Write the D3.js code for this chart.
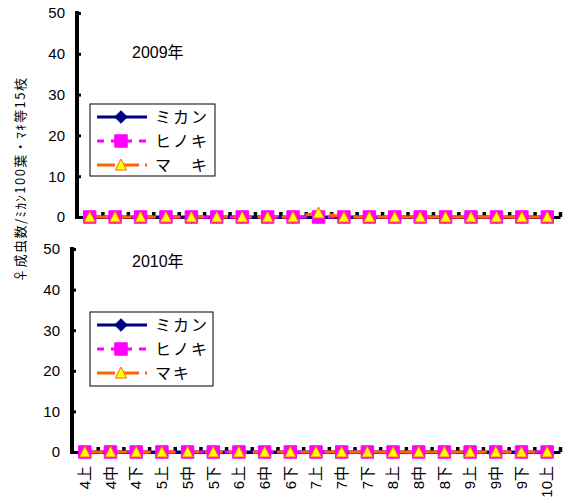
<!DOCTYPE html>
<html>
<head>
<meta charset="utf-8">
<script src="https://cdn.jsdelivr.net/npm/d3@7"></script>
<style>
  html, body { margin: 0; padding: 0; background: #fff; }
  svg { display: block; }
</style>
</head>
<body>
<svg id="chart" width="569" height="503"></svg>
<script>
// 半旬ごとの調査時期
const categories = ["4上","4中","4下","5上","5中","5下","6上","6中","6下","7上","7中","7下","8上","8中","8下","9上","9中","9下","10上"];

// 2009年 ♀成虫数
const mikan2009  = [0,0,0,0,0,0,0,0,0,0,0,0,0,0,0,0,0,0,0];
const hinoki2009 = [0,0,0,0,0,0,0,0,0,0,0,0,0,0,0,0,0,0,0];
const maki2009   = [0,0,0,0,0,0,0,0,0,1,0,0,0,0,0,0,0,0,0];

// 2010年 ♀成虫数
const mikan2010  = [0,0,0,0,0,0,0,0,0,0,0,0,0,0,0,0,0,0,0];
const hinoki2010 = [0,0,0,0,0,0,0,0,0,0,0,0,0,0,0,0,0,0,0];
const maki2010   = [0,0,0,0,0,0,0,0,0,0,0,0,0,0,0,0,0,0,0];

const yTicks = [0,10,20,30,40,50];
const yTitle = "♀成虫数/ﾐｶﾝ100葉・ﾏｷ等15枝";

const svg = d3.select("#chart");
const numFont = "'Liberation Sans', Arial, 'Noto Sans CJK JP', sans-serif";
const jpFont = "'Noto Sans CJK JP', sans-serif";

// marker shapes (Excel style)
const diamondSym = { draw(ctx, s) { const r = Math.sqrt(s) / 2 * 1.2; ctx.moveTo(0,-r); ctx.lineTo(r,0); ctx.lineTo(0,r); ctx.lineTo(-r,0); ctx.closePath(); } };
const squareSym  = { draw(ctx, s) { const r = Math.sqrt(s) / 2; ctx.rect(-r,-r,2*r,2*r); } };
const triSym     = { draw(ctx, s) { const r = Math.sqrt(s) / 2; ctx.moveTo(0,-r); ctx.lineTo(r*0.95,r*0.85); ctx.lineTo(-r*0.95,r*0.85); ctx.closePath(); } };

const seriesStyle = [
  { name: "ミカン", color: "#000080", dash: null,  sym: diamondSym, size: 110, fill: "#000080", stroke: "#000080" },
  { name: "ヒノキ", color: "#FF00FF", dash: "7,7", sym: squareSym,  size: 155, fill: "#FF00FF", stroke: "#FF00FF" },
  { name: "マキ",   color: "#FF6600", dash: "18,6", sym: triSym,    size: 140, fill: "#FFFF00", stroke: "#FF6600" }
];

function panel(cfg) {
  const g = svg.append("g");
  const x = d3.scaleBand().domain(categories).range([cfg.x0, cfg.x1]);
  const cx = c => x(c) + x.bandwidth() / 2;
  const y = d3.scaleLinear().domain([0, 50]).range([cfg.yb, cfg.yt]);

  // y axis
  const ya = g.append("g").attr("transform", `translate(${cfg.x0},0)`)
    .call(d3.axisLeft(y).tickValues(yTicks).tickSize(-3).tickSizeOuter(0).tickPadding(12));
  ya.select(".domain").attr("stroke", "#000").attr("stroke-width", 4)
    .attr("d", `M0,${cfg.yt - 2}V${cfg.yb + 2}`);
  ya.selectAll(".tick line").attr("stroke", "#000").attr("stroke-width", 3).attr("x1", 1).attr("x2", 4);
  ya.selectAll(".tick text").attr("font-family", numFont).attr("font-size", 15).attr("fill", "#000");

  // x axis line with boundary ticks
  const xb = d3.scaleLinear().domain([0, categories.length]).range([cfg.x0, cfg.x1]);
  const xa = g.append("g").attr("transform", `translate(0,${cfg.yb})`)
    .call(d3.axisBottom(xb).tickValues(d3.range(1, categories.length + 1)).tickSize(-5).tickSizeOuter(0).tickFormat(""));
  xa.select(".domain").attr("stroke", "#000").attr("stroke-width", 3);
  xa.selectAll(".tick line").attr("stroke", "#000").attr("stroke-width", 3.5);

  if (cfg.labels) {
    const lab = g.append("g").attr("transform", `translate(0,${cfg.yb})`)
      .call(d3.axisBottom(x).tickSize(0).tickPadding(0));
    lab.select(".domain").remove();
    lab.selectAll(".tick text")
      .attr("font-family", numFont).attr("font-size", 15).attr("fill", "#000")
      .attr("transform", "translate(0,14) rotate(-90)")
      .attr("text-anchor", "end").attr("dy", "0.35em").attr("y", 0).attr("x", 0);
  }

  // series
  cfg.data.forEach((vals, i) => {
    const st = seriesStyle[i];
    const line = d3.line().x((d, j) => cx(categories[j])).y(d => y(d));
    g.append("path").datum(vals).attr("d", line).attr("fill", "none")
      .attr("stroke", st.color).attr("stroke-width", 3)
      .attr("stroke-dasharray", st.dash);
  });
  cfg.data.forEach((vals, i) => {
    const st = seriesStyle[i];
    g.selectAll(null).data(vals).join("path")
      .attr("transform", (d, j) => `translate(${cx(categories[j])},${y(d)})`)
      .attr("d", d3.symbol(st.sym, st.size))
      .attr("fill", st.fill).attr("stroke", st.stroke).attr("stroke-width", 1);
  });

  // year label
  g.append("text").attr("x", 132).attr("y", cfg.yearY)
    .attr("font-family", numFont).attr("font-size", 16).attr("fill", "#000")
    .text(cfg.year);

  // legend
  const L = cfg.legend;
  g.append("rect").attr("x", L.x).attr("y", L.y).attr("width", L.w).attr("height", L.h)
    .attr("fill", "#fff").attr("stroke", "#000").attr("stroke-width", 1);
  seriesStyle.forEach((st, i) => {
    const yy = L.y + 13 + i * L.step;
    g.append("line").attr("x1", L.x + 7).attr("x2", L.x + 57).attr("y1", yy).attr("y2", yy)
      .attr("stroke", st.color).attr("stroke-width", 3).attr("stroke-dasharray", st.dash);
    g.append("path").attr("transform", `translate(${L.x + 31},${yy})`)
      .attr("d", d3.symbol(st.sym, st.size))
      .attr("fill", st.fill).attr("stroke", st.stroke).attr("stroke-width", 1);
    g.append("text").attr("x", L.x + 65).attr("y", yy).attr("dy", "0.36em")
      .attr("font-family", jpFont).attr("font-size", 16).attr("fill", "#000")
      .attr("letter-spacing", 2)
      .text(L.names[i]);
  });
}

panel({
  x0: 77, x1: 560, yt: 13, yb: 217, labels: false,
  data: [mikan2009, hinoki2009, maki2009],
  year: "2009年", yearY: 58,
  legend: { x: 90, y: 104, w: 125, h: 72, step: 24, names: ["ミカン", "ヒノキ", "マ　キ"] }
});

panel({
  x0: 72, x1: 560, yt: 249, yb: 452, labels: true,
  data: [mikan2010, hinoki2010, maki2010],
  year: "2010年", yearY: 267,
  legend: { x: 90, y: 312, w: 123, h: 74, step: 24, names: ["ミカン", "ヒノキ", "マキ"] }
});

// shared y-axis title
svg.append("text")
  .attr("transform", "translate(20,180) rotate(-90)")
  .attr("text-anchor", "middle").attr("dy", "0.35em")
  .attr("font-family", jpFont).attr("font-size", 13).attr("fill", "#000")
  .attr("textLength", 204).attr("lengthAdjust", "spacing")
  .text(yTitle);
</script>
</body>
</html>
